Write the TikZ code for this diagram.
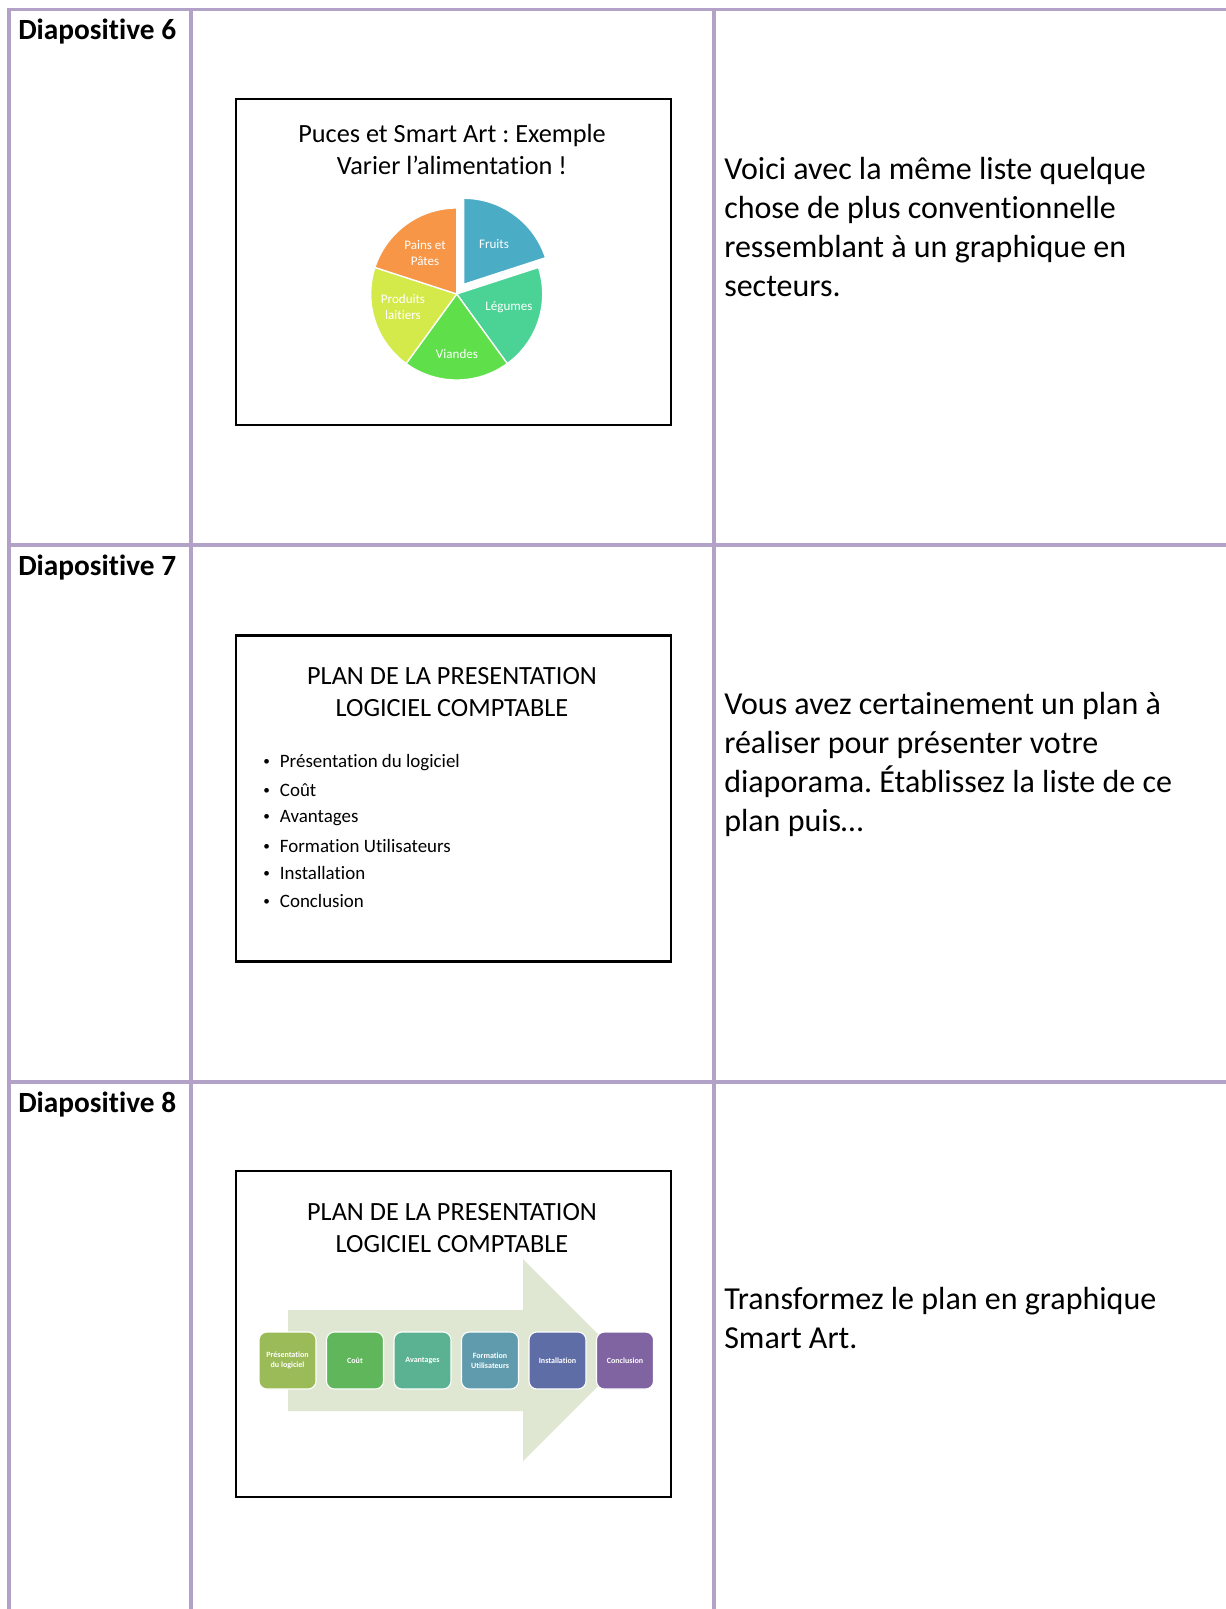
\documentclass[tikz,border=0pt]{standalone}
\usepackage{fontspec}
\setmainfont{Carlito}[Ligatures=NoCommon]
\usetikzlibrary{positioning,calc}
\frenchspacing

\definecolor{gridcol}{HTML}{B3A2C7}
\definecolor{fruitcol}{HTML}{4BACC6}
\definecolor{legumecol}{HTML}{4AD395}
\definecolor{viandecol}{HTML}{5FE04B}
\definecolor{laitiercol}{HTML}{D4EA4B}
\definecolor{paincol}{HTML}{F79646}
\definecolor{arrowcol}{HTML}{DFE7D3}
\definecolor{planA}{HTML}{9BBB59}
\definecolor{planB}{HTML}{5FB65B}
\definecolor{planC}{HTML}{5BB292}
\definecolor{planD}{HTML}{5F9BAC}
\definecolor{planE}{HTML}{5F6DA7}
\definecolor{planF}{HTML}{8064A2}

\begin{document}
\begin{tikzpicture}
[
   x=0.75pt,y=-0.75pt,
   grid/.style={draw=gridcol,line width=2.3pt},
   rowlabel/.style={anchor=west,inner sep=0,font=\fontsize{22}{26}\selectfont\bfseries},
   note/.style={anchor=west,inner sep=0,align=left,font=\fontsize{24}{29.25}\selectfont},
   slidebox/.style={draw=black,line width=1.6pt,fill=white,minimum width=326.25pt,minimum height=244.5pt,inner sep=0},
   slidetitle/.style={align=center,inner sep=0,font=\fontsize{19.7}{24}\selectfont},
   pielabel/.style={align=center,inner sep=0,text=white,font=\fontsize{9.8}{12}\selectfont},
   bulletitem/.style={anchor=west,inner sep=0,font=\fontsize{14.2}{17}\selectfont},
   planbox/.style={draw=white,line width=0.8pt,rounded corners=6pt,minimum width=42.75pt,minimum height=42.75pt,inner sep=0,align=center,text=white,font=\fontsize{6}{7.5}\selectfont\bfseries}]
\useasboundingbox (0,0) rectangle (1226,1609);

\draw[grid] (9,1609) -- (9,9.5) -- (1226,9.5);
\draw[grid] (191,9.5) -- (191,1609);
\draw[grid] (714,9.5) -- (714,1609);
\draw[grid] (9,545) -- (1226,545);
\draw[grid] (9,1082) -- (1226,1082);

\node[rowlabel] (d6) at (18,31.5) {Diapositive 6};
\node[rowlabel] (d7) at (18,567.5) {Diapositive 7};
\node[rowlabel] (d8) at (18,1104.5) {Diapositive 8};

\node[note] (n6) at (724,227) {Voici avec la même liste quelque\\chose de plus conventionnelle\\ressemblant à un graphique en\\secteurs.};
\node[note] (n7) at (724,764.5) {Vous avez certainement un plan à\\réaliser pour présenter votre\\diaporama. Établissez la liste de ce\\plan puis…};
\node[note] (n8) at (724,1317.5) {Transformez le plan en graphique\\Smart Art.};

\node[slidebox] (s6) at (453.5,262) {};
\node[slidetitle] (t6) at (452,149) {Puces et Smart Art : Exemple\\Varier l’alimentation !};
\foreach \nm/\s/\e/\col/\off/\lx/\ly/\txt in {
   fruits/18/90/fruitcol/12/494/244/Fruits,
   legumes/-54/18/legumecol/0/509/307/Légumes,
   viandes/-126/-54/viandecol/0/457/354/Viandes,
   laitiers/162/234/laitiercol/0/403/307/{Produits\\laitiers},
   pains/90/162/paincol/0/425/253/{Pains et\\Pâtes}}
{
   \begin{scope}[shift={(456.7,294)},yscale=-1]
      \filldraw[fill=\col,draw=white,line width=1pt,shift={({(\s+\e)/2}:\off)}]
         (0,0) -- (\s:86) arc[start angle=\s,end angle=\e,radius=86] -- cycle;
   \end{scope}
   \node[pielabel] (\nm) at (\lx,\ly) {\txt};
}

\node[slidebox] (s7) at (453.5,798.5) {};
\node[slidetitle] (t7) at (452,692) {PLAN DE LA PRESENTATION\\LOGICIEL COMPTABLE};
\foreach \txt [count=\i] in {Présentation du logiciel,Coût,Avantages,Formation Utilisateurs,Installation,Conclusion}
   \node[bulletitem] (b\i) at (263,{763+27.6*(\i-1)}) {\makebox[12.5pt][l]{\raisebox{0.12em}{\scalebox{0.7}{•}}}\txt};

\node[slidebox] (s8) at (453.5,1334) {};
\node[slidetitle] (t8) at (452,1228.5) {PLAN DE LA PRESENTATION\\LOGICIEL COMPTABLE};
\fill[arrowcol] (288,1310) -- (523,1310) -- (523,1259) -- (624,1360) -- (523,1461)
   -- (523,1411) -- (288,1411) -- cycle;
\foreach \txt/\col [count=\i] in {{Présentation\\du logiciel}/planA,Coût/planB,Avantages/planC,
   {Formation\\Utilisateurs}/planD,Installation/planE,Conclusion/planF}
   \node[planbox,fill=\col] (p\i) at ({287.5+67.5*(\i-1)},1360.5) {\txt};

\end{tikzpicture}
\end{document}
